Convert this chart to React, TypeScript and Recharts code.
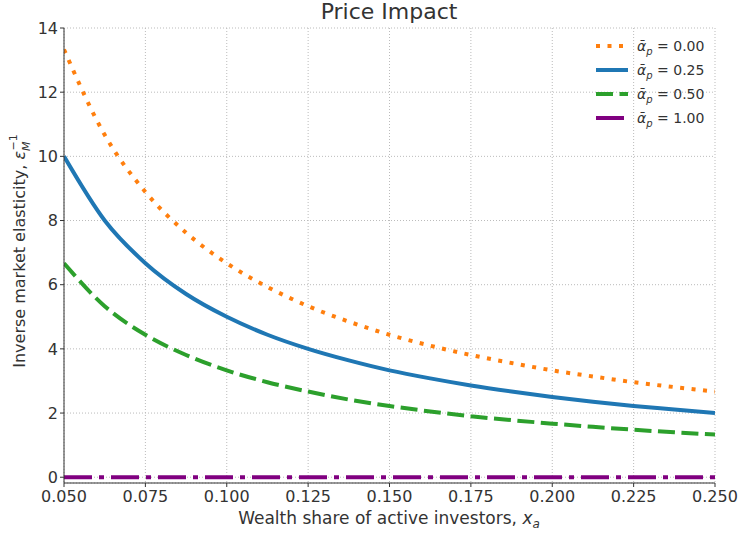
import React from 'react';
import { LineChart, Line, XAxis, YAxis, CartesianGrid, Label } from 'recharts';

const xShare = [0.05, 0.0625, 0.075, 0.0875, 0.1, 0.1125, 0.125, 0.1375, 0.15, 0.1625, 0.175, 0.1875, 0.2, 0.2125, 0.225, 0.2375, 0.25];
const alpha000 = [13.33, 10.67, 8.89, 7.62, 6.67, 5.93, 5.33, 4.85, 4.44, 4.1, 3.81, 3.56, 3.33, 3.14, 2.96, 2.81, 2.67];
const alpha025 = [10.0, 8.0, 6.67, 5.71, 5.0, 4.44, 4.0, 3.64, 3.33, 3.08, 2.86, 2.67, 2.5, 2.35, 2.22, 2.11, 2.0];
const alpha050 = [6.67, 5.33, 4.44, 3.81, 3.33, 2.96, 2.67, 2.42, 2.22, 2.05, 1.9, 1.78, 1.67, 1.57, 1.48, 1.4, 1.33];
const alpha100 = [0, 0, 0, 0, 0, 0, 0, 0, 0, 0, 0, 0, 0, 0, 0, 0, 0];

const xTicks = [0.05, 0.075, 0.1, 0.125, 0.15, 0.175, 0.2, 0.225, 0.25];
const yTicks = [0, 2, 4, 6, 8, 10, 12, 14];

const data = xShare.map((x, i) => ({
  x,
  a000: alpha000[i],
  a025: alpha025[i],
  a050: alpha050[i],
  a100: alpha100[i],
}));

const series = [
  { key: 'a000', label: '0.00', color: '#ff7f0e', dash: '4 7.5' },
  { key: 'a025', label: '0.25', color: '#1f77b4', dash: undefined },
  { key: 'a050', label: '0.50', color: '#2ca02c', dash: '17 6.5' },
  { key: 'a100', label: '1.00', color: '#800080', dash: '28 7 5 7' },
];

const FONT = '"DejaVu Sans", sans-serif';
const TXT = '#333333';

// in-plot legend, drawn as plain svg so it doesn't take space from the plot
const LegendBox = () => (
  <g transform="translate(594, 46)">
    {series.map((s, i) => (
      <g key={s.key} transform={`translate(0, ${i * 24})`}>
        <line x1={2} x2={34} y1={0} y2={0} stroke={s.color} strokeWidth={4} strokeDasharray={s.dash} />
        <text x={43} y={5} fontSize={14} fill={TXT} fontFamily={FONT}>
          <tspan fontStyle="italic">ᾱ</tspan>
          <tspan fontStyle="italic" fontSize={10} dy={4}>p</tspan>
          <tspan dy={-4}>{' = ' + s.label}</tspan>
        </text>
      </g>
    ))}
  </g>
);

export default function App() {
  return (
    <div style={{ position: 'absolute', left: 0, top: 0, width: 739, height: 533, background: '#fff' }}>
      <LineChart width={739} height={533} data={data} margin={{ top: 28, right: 24, bottom: 20, left: 0 }}>
        <text x={389} y={19} textAnchor="middle" fontSize={22} fill={TXT} fontFamily={FONT}>
          Price Impact
        </text>
        <CartesianGrid stroke="#bbbbbb" strokeDasharray="1 2" strokeWidth={1} />
        <XAxis
          dataKey="x"
          type="number"
          domain={[0.05, 0.25]}
          ticks={xTicks}
          tickFormatter={(v: number) => v.toFixed(3)}
          allowDataOverflow
          height={30}
          tickSize={4}
          tickMargin={4}
          stroke="#333"
          tick={{ fill: TXT, fontSize: 16, fontFamily: FONT }}
        >
          <Label
            content={() => (
              <text x={389} y={524} textAnchor="middle" fontSize={17} fill={TXT} fontFamily={FONT}>
                Wealth share of active investors,{' '}
                <tspan fontStyle="italic">x</tspan>
                <tspan fontStyle="italic" fontSize={12} dy={4}>a</tspan>
              </text>
            )}
          />
        </XAxis>
        <YAxis
          type="number"
          domain={[-0.18, 14]}
          ticks={yTicks}
          allowDataOverflow
          width={64}
          tickSize={4}
          tickMargin={2}
          stroke="#333"
          tick={{ fill: TXT, fontSize: 16, fontFamily: FONT }}
        >
          <Label
            content={() => (
              <text
                x={0}
                y={0}
                transform="translate(25, 251) rotate(-90)"
                textAnchor="middle"
                fontSize={16}
                fill={TXT}
                fontFamily={FONT}
              >
                Inverse market elasticity,{' '}
                <tspan fontStyle="italic">ε</tspan>
                <tspan fontStyle="italic" fontSize={11} dy={5}>M</tspan>
                <tspan fontSize={11} dx={-9} dy={-13}>−1</tspan>
              </text>
            )}
          />
        </YAxis>
        <LegendBox />
        {series.map((s) => (
          <Line
            key={s.key}
            dataKey={s.key}
            type="monotone"
            stroke={s.color}
            strokeWidth={4}
            strokeDasharray={s.dash}
            dot={false}
            activeDot={false}
            isAnimationActive={false}
          />
        ))}
      </LineChart>
    </div>
  );
}
